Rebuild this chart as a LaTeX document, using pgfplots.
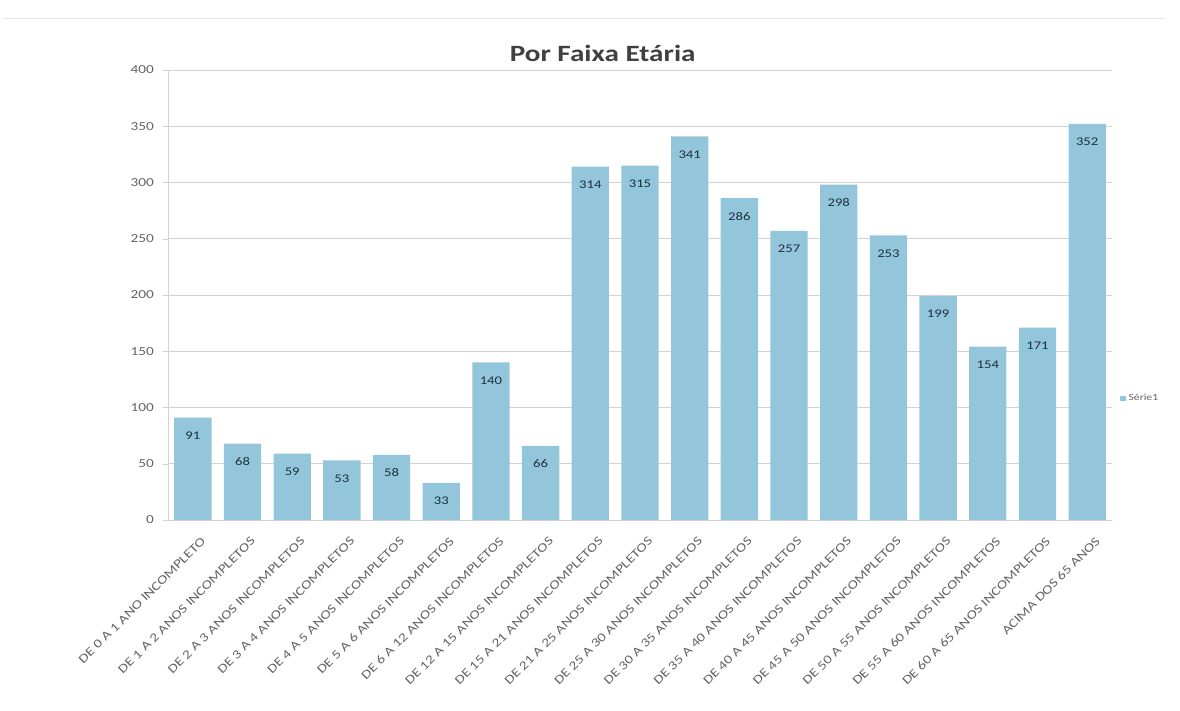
\documentclass[border=0pt]{standalone}
\usepackage{pgfplots}
\pgfplotsset{compat=1.18}
\usepackage{fontspec}
\setmainfont[FakeStretch=1.25]{Carlito}
\definecolor{barblue}{RGB}{147,198,218}
\definecolor{labeltxt}{RGB}{30,48,62}
\definecolor{ticktxt}{RGB}{100,100,100}
\definecolor{gridgray}{RGB}{210,210,210}
\begin{document}
\begin{tikzpicture}[x=0.75pt,y=0.75pt]
% page area (1180 x 710 units, plot area origin at lower left)
\path[use as bounding box] (-168,-190) rectangle (1012,520);
\draw[gridgray!60, line width=0.6pt] (-165,502) -- (997,502);
\begin{axis}[
  at={(0,0)}, anchor=south west,
  scale only axis,
  width=708pt, height=337.5pt,
  ymin=0, ymax=400,
  ytick={0,50,...,400},
  xmin=-0.5, xmax=18.5,
  xtick={0,...,18},
  xticklabels={DE 0 A 1 ANO INCOMPLETO,DE 1 A 2 ANOS INCOMPLETOS,DE 2 A 3 ANOS INCOMPLETOS,DE 3 A 4 ANOS INCOMPLETOS,DE 4 A 5 ANOS INCOMPLETOS,DE 5 A 6 ANOS INCOMPLETOS,DE 6 A 12 ANOS INCOMPLETOS,DE 12 A 15 ANOS INCOMPLETOS,DE 15 A 21 ANOS INCOMPLETOS,DE 21 A 25 ANOS INCOMPLETOS,DE 25 A 30 ANOS INCOMPLETOS,DE 30 A 35 ANOS INCOMPLETOS,DE 35 A 40 ANOS INCOMPLETOS,DE 40 A 45 ANOS INCOMPLETOS,DE 45 A 50 ANOS INCOMPLETOS,DE 50 A 55 ANOS INCOMPLETOS,DE 55 A 60 ANOS INCOMPLETOS,DE 60 A 65 ANOS INCOMPLETOS,ACIMA DOS 65 ANOS},
  x tick label style={rotate=45, anchor=north east, font=\fontsize{9.3}{10}\selectfont, text=ticktxt, inner sep=0.5pt, xshift=-1pt, yshift=-9pt},
  y tick label style={font=\fontsize{9.2}{10}\selectfont, text=ticktxt, xshift=-3pt},
  /pgf/number format/assume math mode=true,
  ymajorgrids, grid style={gridgray, line width=0.6pt},
  axis x line*=bottom, axis y line*=left,
  axis line style={gridgray, line width=0.6pt},
  x axis line style={-}, y axis line style={-},
  major tick length=4pt,
  xtick style={draw=none},
  ytick style={gridgray},
  tick align=outside,
  title={\bfseries Por Faixa Etária},
  title style={font=\fontsize{17.5}{20}\selectfont, text=black!75, yshift=-3pt, xshift=-28pt},
  legend style={draw=none, fill=none, at={(1.004,0.27)}, anchor=west, font=\fontsize{7}{8}\selectfont, text=ticktxt},
  ybar, bar width=28pt,
  nodes near coords,
  every node near coord/.append style={anchor=north, yshift=-7pt, font=\fontsize{8.8}{10}\selectfont, text=labeltxt},
]
\addplot[fill=barblue, draw=none, area legend,
  legend image code/.code={\fill[barblue] (0pt,-2.2pt) rectangle (4.4pt,2.2pt);}] coordinates {
  (0,91) (1,68) (2,59) (3,53) (4,58) (5,33) (6,140) (7,66) (8,314) (9,315)
  (10,341) (11,286) (12,257) (13,298) (14,253) (15,199) (16,154) (17,171) (18,352)
};
\addlegendentry{Série1}
\end{axis}
\end{tikzpicture}
\end{document}
